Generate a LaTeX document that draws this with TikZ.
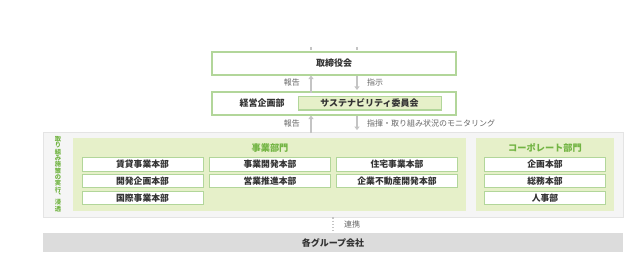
\documentclass[tikz,border=0pt]{standalone}
\usepackage{fontspec}
\setmainfont{Noto Sans CJK JP}
\usetikzlibrary{arrows.meta}
\definecolor{gborder}{HTML}{B2D69A}
\definecolor{gfill}{HTML}{E6F0C9}
\definecolor{gtitle}{HTML}{72B443}
\definecolor{txt}{HTML}{333333}
\definecolor{lbl}{HTML}{666666}
\definecolor{arrc}{HTML}{C4C4C4}
\definecolor{outerfill}{HTML}{F5F5F5}
\definecolor{outerline}{HTML}{E4E4E4}
\definecolor{barfill}{HTML}{DCDCDC}
\tikzset{
  wbox/.style={draw=gborder, line width=1.1pt, fill=white, inner sep=0pt, text=txt, font=\fontsize{9}{10}\selectfont\bfseries},
  gbox/.style={draw=gborder, line width=1pt, fill=gfill, inner sep=0pt, text=txt, font=\fontsize{9}{10}\selectfont\bfseries},
  subbox/.style={draw=gborder, line width=1pt, fill=white, inner sep=0pt, minimum width=121pt, minimum height=13.5pt, text=txt, font=\fontsize{8.8}{9}\selectfont\bfseries},
  panel/.style={fill=gfill, draw=none, inner sep=0pt},
  ttl/.style={text=gtitle, font=\fontsize{9.2}{10}\selectfont\bfseries, inner sep=0pt},
  lab/.style={text=lbl, font=\fontsize{8}{8}\selectfont, inner sep=0pt},
  arr/.style={draw=arrc, line width=1.4pt, -{Triangle[length=3.5pt,width=5pt]}},
  stub/.style={draw=arrc, line width=1.2pt},
}
\begin{document}
\begin{tikzpicture}[x=1pt,y=-1pt]
\useasboundingbox (0,0) rectangle (635,254);
% top stubs
\coordinate (s1a) at (311,47); \coordinate (s1b) at (311,50);
\coordinate (s2a) at (357,47); \coordinate (s2b) at (357,50);
\draw[stub] (s1a) -- (s1b);
\draw[stub] (s2a) -- (s2b);
% board
\node[wbox, minimum width=244pt, minimum height=23pt] (board) at (334,63.5) {取締役会};
% management
\node[wbox, minimum width=244pt, minimum height=23pt] (mgmt) at (334,103.5) {};
\node[text=txt, font=\fontsize{9}{10}\selectfont\bfseries, inner sep=0pt] (keiei) at (262,103.5) {経営企画部};
\node[gbox, minimum width=143pt, minimum height=13pt] (sust) at (369.5,103.5) {サステナビリティ委員会};
% outer gray
\node[fill=outerfill, draw=outerline, line width=0.8pt, minimum width=580pt, minimum height=85pt, inner sep=0pt] (outer) at (333,174.5) {};
% vertical text
\node[text=gtitle, font=\fontsize{6.3}{6.35}\selectfont\bfseries, align=center, inner sep=0pt] (vt) at (58,174) {取\\り\\組\\み\\施\\策\\の\\実\\行\\︑\\浸\\透};
% business panel
\node[panel, minimum width=393pt, minimum height=73pt] (biz) at (269.5,174.5) {};
\node[ttl] (biztitle) at (270,148) {事業部門};
\node[panel, minimum width=138pt, minimum height=73pt] (corp) at (545,174.5) {};
\node[ttl] (corptitle) at (545,148) {コーポレート部門};
% sub boxes
\node[subbox] (b11) at (142.5,164.5) {賃貸事業本部};
\node[subbox] (b12) at (270,164.5) {事業開発本部};
\node[subbox] (b13) at (397,164.5) {住宅事業本部};
\node[subbox] (b21) at (142.5,181) {開発企画本部};
\node[subbox] (b22) at (270,181) {営業推進本部};
\node[subbox] (b23) at (397,181) {企業不動産開発本部};
\node[subbox] (b31) at (142.5,198) {国際事業本部};
\node[subbox] (c1) at (545,164.5) {企画本部};
\node[subbox] (c2) at (545,181) {総務本部};
\node[subbox] (c3) at (545,198) {人事部};
% arrows
\coordinate (xu) at (311,0); \coordinate (xd) at (357,0);
\draw[arr] ([yshift=-1.5pt]mgmt.north -| xu) -- (board.south -| xu);
\draw[arr] (board.south -| xd) -- ([yshift=1.5pt]mgmt.north -| xd);
\draw[arr] ([yshift=-1.5pt]outer.north -| xu) -- (mgmt.south -| xu);
\draw[arr] (mgmt.south -| xd) -- ([yshift=1.5pt]outer.north -| xd);
\node[lab, anchor=east] (l1) at (300,82.5) {報告};
\node[lab, anchor=west] (l2) at (367,82.5) {指示};
\node[lab, anchor=east] (l3) at (300,123) {報告};
\node[lab, anchor=west] (l4) at (367,123) {指揮・取り組み状況のモニタリング};
% bottom bar
\node[fill=barfill, draw=none, minimum width=580pt, minimum height=19pt, inner sep=0pt, text=txt, font=\fontsize{9}{10}\selectfont\bfseries] (bar) at (333,242.5) {各グループ会社};
\coordinate (xc) at (333,0);
\draw[draw=arrc, line width=1.2pt, dotted] (outer.south -| xc) -- (bar.north -| xc);
\node[lab, anchor=west] (l5) at (344,224.5) {連携};
\end{tikzpicture}
\end{document}
